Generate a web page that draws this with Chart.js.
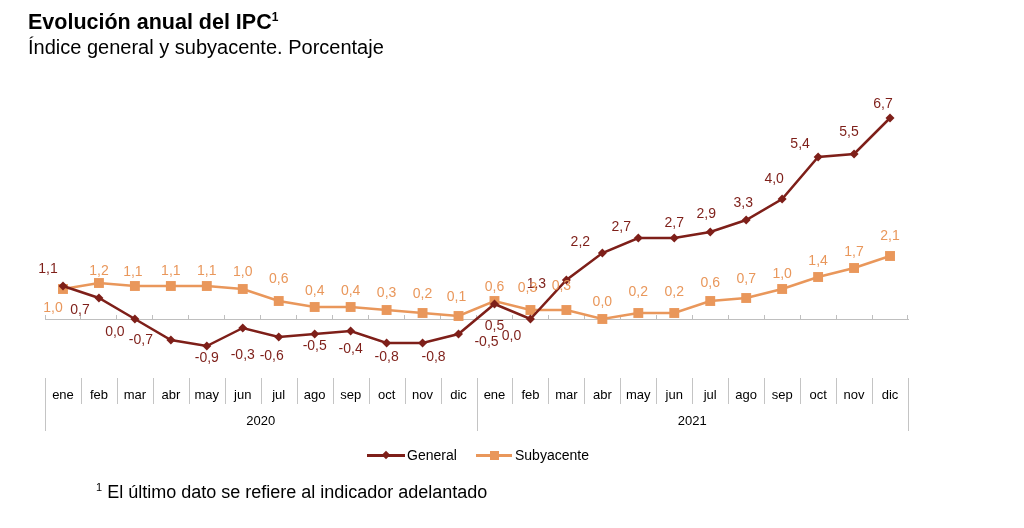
<!DOCTYPE html>
<html lang="es">
<head>
<meta charset="utf-8">
<script src="https://cdn.jsdelivr.net/npm/chart.js@4.4.1/dist/chart.umd.min.js"></script>
<style>
  body { margin: 0; background: #fff; font-family: "Liberation Sans", Arial, sans-serif; color: #000; }
  #caja { position: relative; width: 1024px; height: 528px; overflow: hidden; }
  #grafico { position: absolute; left: 0; top: 0; }
  .titulo { position: absolute; left: 28px; top: 8px; font-size: 21.5px; font-weight: bold; line-height: 28px; white-space: nowrap; }
  .subtitulo { position: absolute; left: 28px; top: 36px; font-size: 20px; line-height: 22px; white-space: nowrap; }
  .sup { font-size: 12px; position: relative; top: -8px; }
  .nota { position: absolute; left: 96px; top: 481px; font-size: 18px; line-height: 22px; white-space: nowrap; }
  .nota .sup { font-size: 11px; top: -7px; }
  .ley { position: absolute; top: 446px; height: 18px; font-size: 14px; line-height: 18px; }
  .ley .lin { position: absolute; left: 0; top: 8px; height: 2.5px; }
  .ley .mk { position: absolute; }
  .ley .txt { position: absolute; top: 0; white-space: nowrap; }
</style>
</head>
<body>
<div id="caja">
  <canvas id="grafico" width="1024" height="528"></canvas>
  <div class="titulo">Evolución anual del IPC<span class="sup">1</span></div>
  <div class="subtitulo">Índice general y subyacente. Porcentaje</div>

  <div class="ley" style="left:367px">
    <div class="lin" style="width:38px;background:#7e1f19"></div>
    <div class="mk" style="left:16px;top:6px;width:6px;height:6px;background:#7e1f19;transform:rotate(45deg)"></div>
    <div class="txt" style="left:40px">General</div>
  </div>
  <div class="ley" style="left:476px">
    <div class="lin" style="width:36px;background:#e9975b"></div>
    <div class="mk" style="left:14px;top:5px;width:9px;height:9px;background:#e9975b"></div>
    <div class="txt" style="left:39px">Subyacente</div>
  </div>

  <div class="nota"><span class="sup">1</span> El último dato se refiere al indicador adelantado</div>
</div>

<script>
// datos
const meses = ["ene", "feb", "mar", "abr", "may", "jun", "jul", "ago", "sep", "oct", "nov", "dic"];
const anios = ["2020", "2021"];
const general = [1.1, 0.7, 0.0, -0.7, -0.9, -0.3, -0.6, -0.5, -0.4, -0.8, -0.8, -0.5,
                 0.5, 0.0, 1.3, 2.2, 2.7, 2.7, 2.9, 3.3, 4.0, 5.4, 5.5, 6.7];
const subyacente = [1.0, 1.2, 1.1, 1.1, 1.1, 1.0, 0.6, 0.4, 0.4, 0.3, 0.2, 0.1,
                    0.6, 0.3, 0.3, 0.0, 0.2, 0.2, 0.6, 0.7, 1.0, 1.4, 1.7, 2.1];

// colocacion de las etiquetas de datos (desplazamiento respecto al punto)
const despGeneral = [[-15, -17], [-19, 12], [-20, 13], [-30, 0], [0, 12], [0, 27], [-7, 19], [0, 12],
                     [0, 18], [0, 14], [11, 14], [28, 8], [0, 22], [-19, 17], [-30, 4], [-22, -11],
                     [-17, -11], [0, -15], [-4, -18], [-3, -17], [-8, -20], [-18, -13], [-5, -22], [-7, -14]];
const despSubyacente = [[-10, 19], [0, -12], [-2, -14], [0, -15], [0, -15], [0, -17], [0, -22], [0, -16],
                        [0, -16], [0, -17], [0, -19], [-2, -19], [0, -14], [-3, -22], [-5, -24], [0, -17],
                        [0, -21], [0, -21], [0, -18], [0, -19], [0, -15], [0, -16], [0, -16], [0, -20]];

const colorGeneral = "#7e1f19";
const colorSub = "#e9975b";
const fuente = '"Liberation Sans", Arial, sans-serif';

function fmt(v) {
    return v.toFixed(1).replace(".", ",");
}

// etiquetas de valor junto a cada punto
const etiquetasPlugin = {
    id: "etiquetas",
    afterDatasetsDraw(chart) {
        const ctx = chart.ctx;
        ctx.save();
        ctx.font = "14px " + fuente;
        ctx.textAlign = "center";
        ctx.textBaseline = "middle";
        chart.data.datasets.forEach((ds, d) => {
            const meta = chart.getDatasetMeta(d);
            const desp = d === 0 ? despGeneral : despSubyacente;
            ctx.fillStyle = ds.borderColor;
            meta.data.forEach((pt, i) => {
                ctx.fillText(fmt(ds.data[i]), pt.x + desp[i][0], pt.y + desp[i][1]);
            });
        });
        ctx.restore();
    }
};

// tabla de meses y años debajo del grafico
const tablaPlugin = {
    id: "tabla",
    afterDraw(chart) {
        const x = chart.scales.x;
        const ctx = chart.ctx;
        const paso = x.getPixelForValue(1) - x.getPixelForValue(0);
        const inicio = x.getPixelForValue(0) - paso / 2;
        const yTop = 378, yMes = 404, yAnio = 431;
        const total = meses.length * anios.length;

        ctx.save();
        ctx.strokeStyle = "#c4c4c4";
        ctx.lineWidth = 1;
        for (let k = 0; k <= total; k++) {
            const xb = Math.round(inicio + k * paso) + 0.5;
            ctx.beginPath();
            ctx.moveTo(xb, yTop);
            ctx.lineTo(xb, k % meses.length === 0 ? yAnio : yMes);
            ctx.stroke();
        }

        ctx.fillStyle = "#000";
        ctx.font = "13px " + fuente;
        ctx.textAlign = "center";
        ctx.textBaseline = "middle";
        for (let i = 0; i < total; i++) {
            ctx.fillText(meses[i % meses.length], x.getPixelForValue(i), 395);
        }
        anios.forEach((a, j) => {
            const c = (x.getPixelForValue(j * 12) + x.getPixelForValue(j * 12 + 11)) / 2;
            ctx.fillText(a, c, 421);
        });
        ctx.restore();
    }
};

window.onload = function () {
    const etiquetasX = anios.flatMap(a => meses.map(m => m + " " + a));

    new Chart(document.getElementById("grafico"), {
        type: "line",
        data: {
            labels: etiquetasX,
            datasets: [{
                label: "General",
                data: general,
                borderColor: colorGeneral,
                backgroundColor: colorGeneral,
                borderWidth: 2.5,
                pointStyle: "rectRot",
                pointRadius: 4.5,
                pointBorderWidth: 0,
                tension: 0
            }, {
                label: "Subyacente",
                data: subyacente,
                borderColor: colorSub,
                backgroundColor: colorSub,
                borderWidth: 2.5,
                pointStyle: "rect",
                pointRadius: 7,
                pointBorderWidth: 0,
                tension: 0
            }]
        },
        options: {
            responsive: false,
            animation: false,
            layout: { padding: { left: 45, right: 116, top: 94, bottom: 149 } },
            plugins: {
                legend: { display: false },
                tooltip: { enabled: false }
            },
            scales: {
                x: {
                    position: { y: 0 },
                    offset: true,
                    grid: { offset: true, drawOnChartArea: false, tickLength: -5, color: "#bfbfbf" },
                    border: { color: "#bfbfbf" },
                    ticks: { display: false }
                },
                y: { display: false, min: -2, max: 7.5 }
            }
        },
        plugins: [etiquetasPlugin, tablaPlugin]
    });
};
</script>
</body>
</html>
